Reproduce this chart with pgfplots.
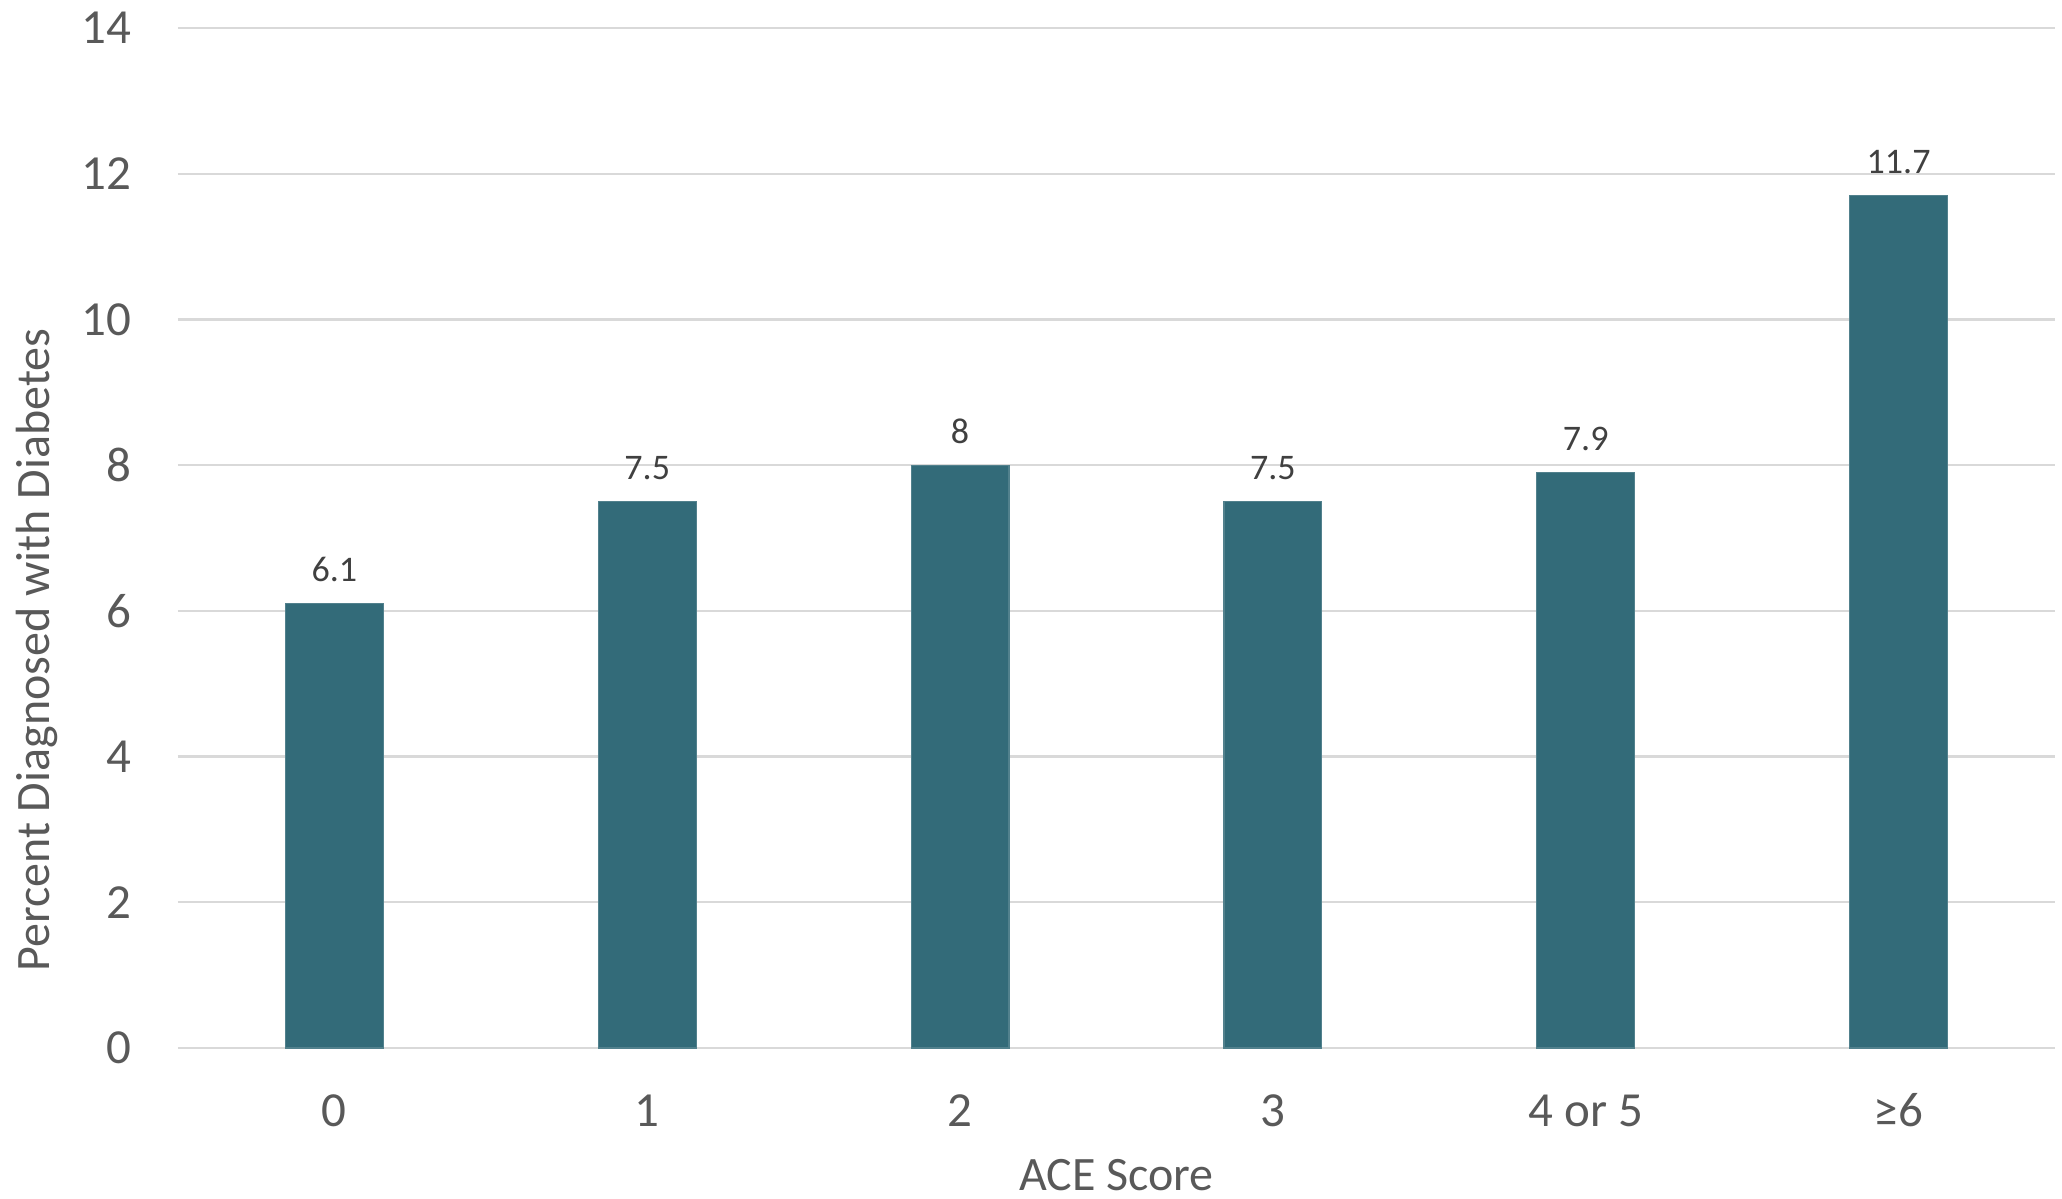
\documentclass[border=0pt]{standalone}
\usepackage{fontspec}
\setmainfont{Carlito}
\usepackage{pgfplots}
\pgfplotsset{compat=1.18}
\definecolor{barc}{RGB}{51,107,121}
\definecolor{txt}{RGB}{89,89,89}
\definecolor{lbl}{RGB}{64,64,64}
\definecolor{grd}{RGB}{217,217,217}
\begin{document}
\begin{tikzpicture}
\path[use as bounding box] (-89pt,-75.5pt) rectangle (942pt,524pt);
\begin{axis}[
  at={(0,0)}, anchor=south west,
  width=938.5pt, height=510pt, scale only axis,
  xmin=-0.5, xmax=5.5, ymin=0, ymax=14,
  ytick={0,2,...,14},
  xtick={0,...,5},
  xticklabels={0,1,2,3,4 or 5,≥6},
  axis line style={draw=none},
  axis x line*=bottom,
  ymajorgrids, grid style={grd, line width=1.2pt},
  major tick length=0pt,
  tick label style={font=\fontsize{24.5}{28}\selectfont, text=txt},
  yticklabel style={anchor=east, inner sep=0pt, xshift=-23pt},
  xticklabel style={anchor=base, inner sep=0pt, yshift=-39pt},
  /pgf/number format/assume math mode=true,
  xlabel={ACE Score},
  ylabel={Percent Diagnosed with Diabetes},
  label style={font=\fontsize{24}{28}\selectfont, text=txt, inner sep=0pt},
  xlabel style={at={(axis description cs:0.5,-0.125)}, anchor=center},
  ylabel style={at={(axis description cs:-0.0751,0.39)}, anchor=center, rotate=0},
  clip=false,
]
\draw[grd, line width=1.2pt] (axis cs:-0.5,0) -- (axis cs:5.5,0);
\addplot[ybar, bar width=0.313, fill=barc, draw=barc!85!white, line width=0.6pt,
  nodes near coords, every node near coord/.append style={font=\fontsize{18}{21}\selectfont, text=lbl, anchor=base, yshift=11pt, inner sep=0pt}]
  coordinates {(0,6.1) (1,7.5) (2,8) (3,7.5) (4,7.9) (5,11.7)};
\end{axis}
\end{tikzpicture}
\end{document}
